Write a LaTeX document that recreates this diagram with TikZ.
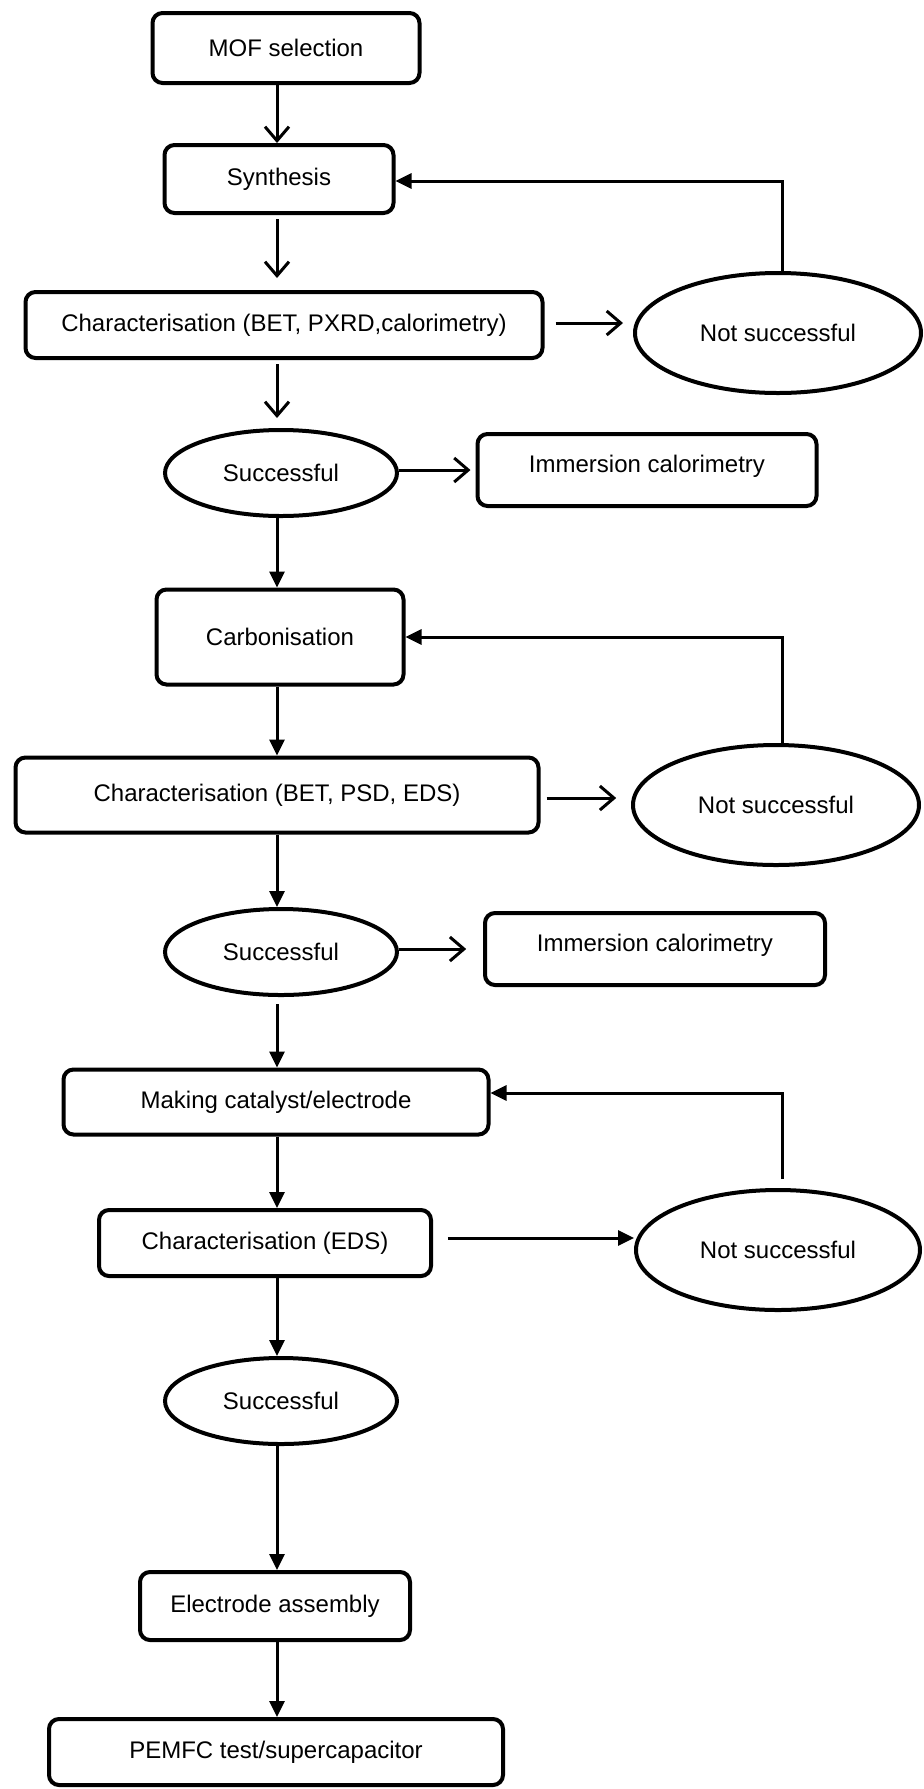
\documentclass[tikz,border=0pt]{standalone}
\usepackage{fontspec}
\setmainfont{Liberation Sans}
\usetikzlibrary{shapes.geometric, arrows.meta}

\begin{document}
\begin{tikzpicture}[
    x=0.5pt, y=-0.5pt,
    font=\fontsize{12}{14}\selectfont,
    box/.style={draw, line width=2pt, rounded corners=5pt},
    oval/.style={draw, ellipse, line width=2pt, minimum width=116pt, minimum height=43pt},
    failoval/.style={oval, minimum width=143pt, minimum height=60pt},
    immbox/.style={box, inner sep=0pt, text height=19pt, text depth=17pt},
    link/.style={line width=1.5pt},
    barb/.style={link, -{Straight Barb[length=7pt, width=12pt]}},
    >={Triangle[length=8pt, width=7.5pt]}
]

% Frame
\useasboundingbox (0,0) rectangle (923,1789);
\coordinate (spine) at (277,0);

% Stage 1: MOF
\node[box, minimum width=133.5pt, minimum height=35pt] (mof) at (286,48) {MOF selection};
\node[box, minimum width=114.5pt, minimum height=34pt] (syn) at (279,179) {Synthesis};
\node[box, minimum width=258.5pt, minimum height=33pt] (charA) at (284,325) {Characterisation (BET, PXRD,calorimetry)};
\node[failoval] (failA) at (778,333) {Not successful};
\node[oval] (okA) at (281,473) {Successful};
\node[immbox, minimum width=169.5pt] (immA) at (647,470) {Immersion calorimetry};

% Stage 2: carbon
\node[box, minimum width=123.5pt, minimum height=47.5pt] (carb) at (280,637) {Carbonisation};
\node[box, minimum width=261.5pt, minimum height=37.5pt] (charB) at (277,795) {Characterisation (BET, PSD, EDS)};
\node[failoval] (failB) at (776,805) {Not successful};
\node[oval] (okB) at (281,952) {Successful};
\node[immbox, minimum width=170pt] (immB) at (655,949) {Immersion calorimetry};

% Stage 3: electrode
\node[box, minimum width=212.5pt, minimum height=32.5pt] (cat) at (276,1102) {Making catalyst/electrode};
\node[box, minimum width=166pt, minimum height=33pt] (charC) at (265,1243) {Characterisation (EDS)};
\node[failoval, minimum width=142pt] (failC) at (778,1250) {Not successful};
\node[oval] (okC) at (281,1401) {Successful};
\node[box, minimum width=135pt, minimum height=34pt] (elec) at (275,1606) {Electrode assembly};
\node[box, minimum width=227pt, minimum height=33pt] (test) at (276,1752) {PEMFC test/supercapacitor};

% Side exits
\coordinate (outA) at ([yshift=1pt]charA.east);
\coordinate (outB) at ([yshift=-1.5pt]charB.east);
\coordinate (outC) at ([yshift=2.5pt]charC.east);

% Open arrows
\draw[barb] (mof.south -| spine) -- (syn.north -| spine);
\draw[barb, shorten <=2pt, shorten >=6pt] (syn.south -| spine) -- (charA.north -| spine);
\draw[barb, shorten <=2pt, shorten >=5pt] (charA.south -| spine) -- (okA.north -| spine);
\draw[barb, shorten <=5.5pt, shorten >=5pt] (outA) -- (failA.west |- outA);
\draw[barb, shorten >=2.5pt] (immA.west -| okA.east) -- (immA.west);
\draw[barb, shorten <=3pt, shorten >=7.4pt] (outB) -- (failB.west |- outB);
\draw[barb, shorten >=8.4pt] (immB.west -| okB.east) -- (immB.west);

% Filled arrows
\draw[link, ->] (okA.south -| spine) -- (carb.north -| spine);
\draw[link, ->] (carb.south -| spine) -- (charB.north -| spine);
\draw[link, ->] (charB.south -| spine) -- (okB.north -| spine);
\draw[link, ->, shorten <=3.5pt] (okB.south -| spine) -- (cat.north -| spine);
\draw[link, ->] (cat.south -| spine) -- (charC.north -| spine);
\draw[link, ->, shorten <=7.4pt] (outC) -- (failC.west |- outC);
\draw[link, ->] (charC.south -| spine) -- (okC.north -| spine);
\draw[link, ->] (okC.south -| spine) -- (elec.north -| spine);
\draw[link, ->] (elec.south -| spine) -- (test.north -| spine);

% Retry loops
\draw[link, ->] ([xshift=2pt]failA.north) |- ([yshift=-1pt]syn.east);
\draw[link, ->] ([xshift=3pt]failB.north) |- (carb.east);
\draw[link, ->, shorten <=4.5pt] ([xshift=2pt]failC.north) |- ([yshift=4.5pt]cat.east);

\end{tikzpicture}
\end{document}
